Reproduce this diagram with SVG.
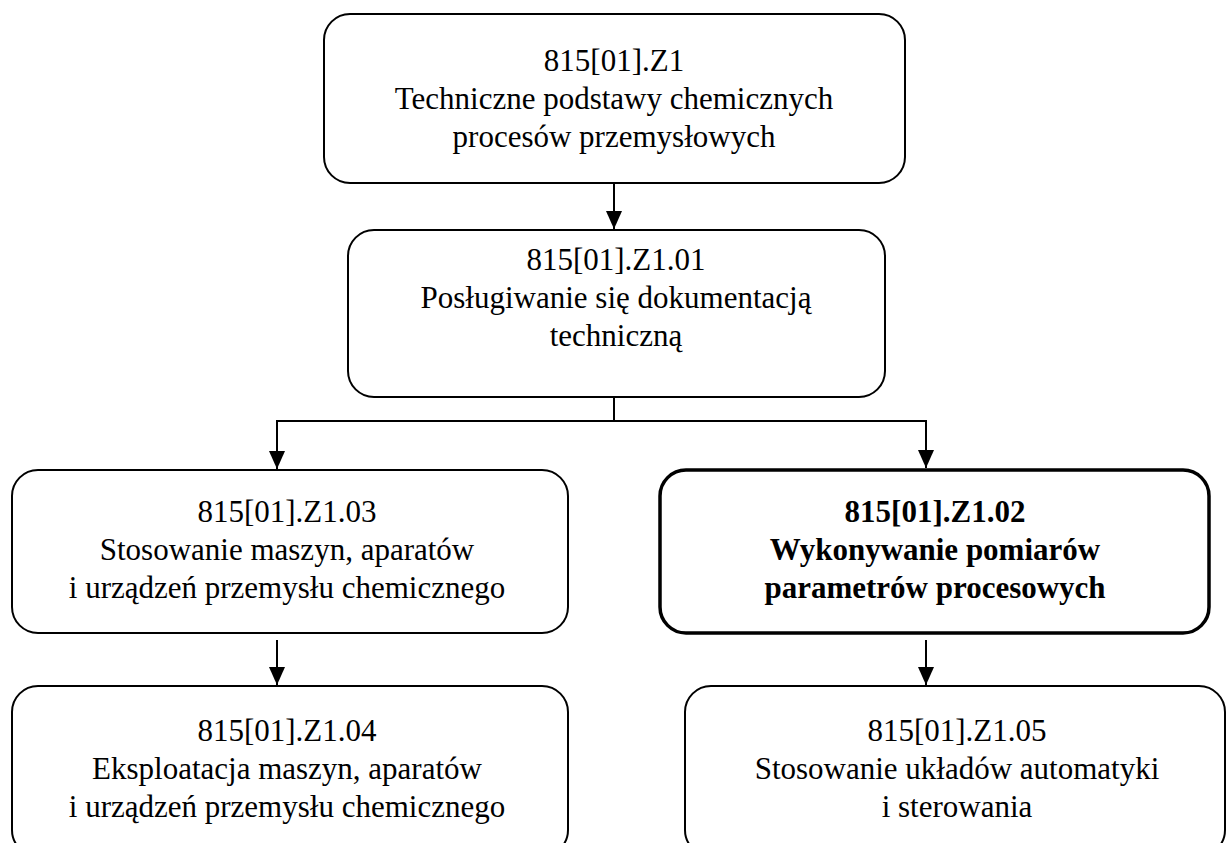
<svg xmlns="http://www.w3.org/2000/svg" width="1229" height="843" viewBox="0 0 1229 843">
<style>
.box{fill:#fff;stroke:#000;stroke-width:2}
.bold{stroke-width:3.5}
.t{font-family:'Liberation Serif','Times New Roman',serif;font-size:31px;fill:#000;text-anchor:middle}
.tb{font-weight:bold}
.c{stroke:#000;stroke-width:2;fill:none}
</style>
<defs>
<marker id="ah" viewBox="0 0 18 16" refX="18" refY="8" markerWidth="18" markerHeight="16" markerUnits="userSpaceOnUse" orient="auto">
<path d="M0,0 L18,8 L0,16 Z" fill="#000"/>
</marker>
</defs>
<rect width="1229" height="843" fill="#fff"/>
<g id="connectors">
<line class="c" x1="614" y1="183" x2="614" y2="229" marker-end="url(#ah)"/>
<line class="c" x1="614" y1="397" x2="614" y2="421"/>
<line class="c" x1="277" y1="421" x2="926" y2="421"/>
<line class="c" x1="277" y1="420" x2="277" y2="469" marker-end="url(#ah)"/>
<line class="c" x1="926" y1="420" x2="926" y2="468" marker-end="url(#ah)"/>
<line class="c" x1="277" y1="640" x2="277" y2="685" marker-end="url(#ah)"/>
<line class="c" x1="926" y1="640" x2="926" y2="685" marker-end="url(#ah)"/>
</g>
<g id="n1">
<rect class="box" x="324" y="14" width="581" height="169" rx="26"/>
<text class="t" x="614" y="71">815[01].Z1</text>
<text class="t" x="614" y="109">Techniczne podstawy chemicznych</text>
<text class="t" x="614" y="147">procesów przemysłowych</text>
</g>
<g id="n2">
<rect class="box" x="348" y="230" width="537" height="167" rx="26"/>
<text class="t" x="616" y="270">815[01].Z1.01</text>
<text class="t" x="616" y="308">Posługiwanie się dokumentacją</text>
<text class="t" x="616" y="346">techniczną</text>
</g>
<g id="n3">
<rect class="box" x="12" y="470" width="556" height="163" rx="26"/>
<text class="t" x="287" y="522">815[01].Z1.03</text>
<text class="t" x="287" y="560">Stosowanie maszyn, aparatów</text>
<text class="t" x="287" y="598">i urządzeń przemysłu chemicznego</text>
</g>
<g id="n4">
<rect class="box bold" x="660" y="470" width="549" height="163" rx="26"/>
<text class="t tb" x="935" y="522">815[01].Z1.02</text>
<text class="t tb" x="935" y="560">Wykonywanie pomiarów</text>
<text class="t tb" x="935" y="598">parametrów procesowych</text>
</g>
<g id="n5">
<rect class="box" x="12" y="686" width="556" height="170" rx="26"/>
<text class="t" x="287" y="741">815[01].Z1.04</text>
<text class="t" x="287" y="779">Eksploatacja maszyn, aparatów</text>
<text class="t" x="287" y="817">i urządzeń przemysłu chemicznego</text>
</g>
<g id="n6">
<rect class="box" x="685" y="686" width="540" height="170" rx="26"/>
<text class="t" x="957" y="741">815[01].Z1.05</text>
<text class="t" x="957" y="779">Stosowanie układów automatyki</text>
<text class="t" x="957" y="817">i sterowania</text>
</g>
</svg>
